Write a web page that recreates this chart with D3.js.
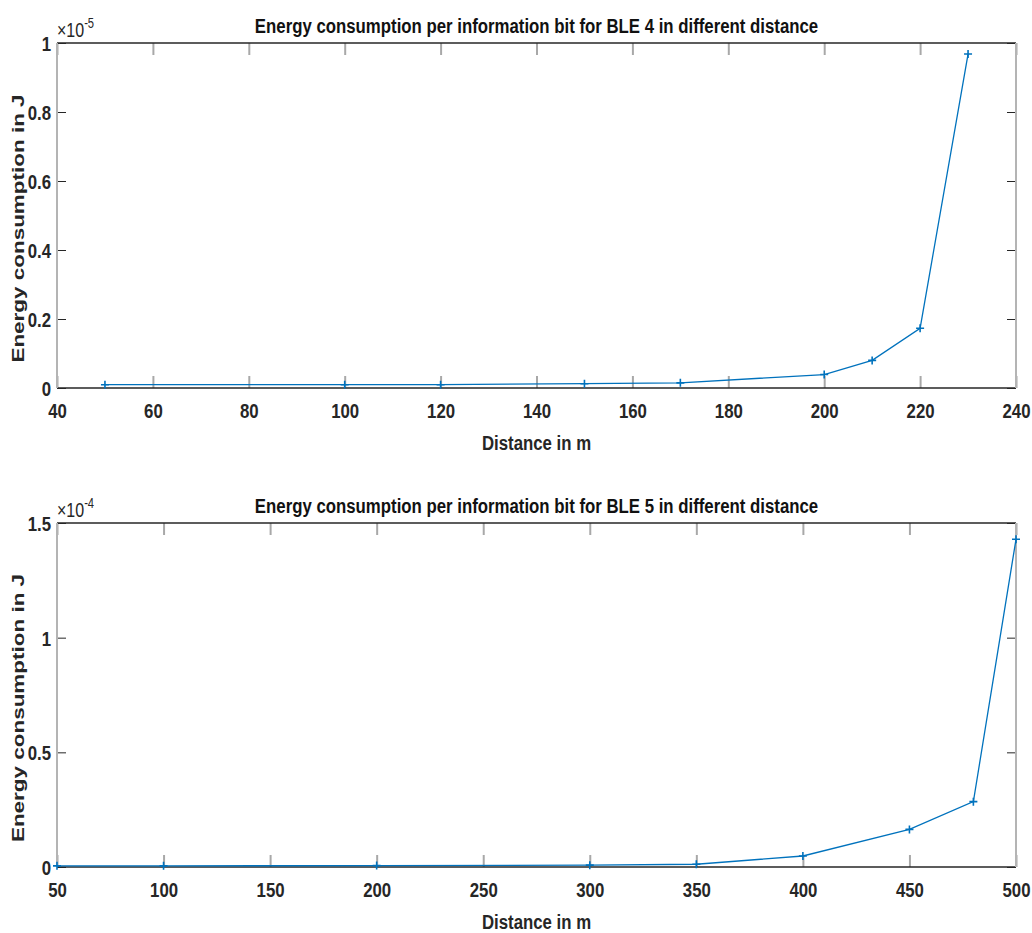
<!DOCTYPE html>
<html>
<head>
<meta charset="utf-8">
<script src="https://cdn.jsdelivr.net/npm/d3@7"></script>
<style>
  body { margin: 0; background: #fff; }
  text { font-family: "Liberation Sans", Arial, sans-serif; }
</style>
</head>
<body>
<div id="chart"></div>
<script>
// BLE 4 (energy in units of 1e-5 J)
const ble4Distance = [50, 100, 120, 150, 170, 200, 210, 220, 230];
const ble4Energy = [0.0095, 0.0095, 0.0096, 0.0125, 0.015, 0.039, 0.080, 0.173, 0.968];
const ble4XTicks = [40, 60, 80, 100, 120, 140, 160, 180, 200, 220, 240];
const ble4YTicks = [0, 0.2, 0.4, 0.6, 0.8, 1];

// BLE 5 (energy in units of 1e-4 J)
const ble5Distance = [50, 100, 200, 300, 350, 400, 450, 480, 500];
const ble5Energy = [0.005, 0.005, 0.006, 0.008, 0.012, 0.048, 0.164, 0.285, 1.429];
const ble5XTicks = [50, 100, 150, 200, 250, 300, 350, 400, 450, 500];
const ble5YTicks = [0, 0.5, 1, 1.5];

const width = 1032;
const height = 933;
const left = 57, right = 1016;
const squeeze = 0.8;   // texto estrecho como en la figura
const blue = "#0072BD";
const dark = "#262626";

const svg = d3.select("div#chart").append("svg").attr("width", width).attr("height", height);

function drawPanel(p) {
    const x = d3.scaleLinear().domain(d3.extent(p.xTicks)).range([left, right]);
    const y = d3.scaleLinear().domain(d3.extent(p.yTicks)).range([p.bottom, p.top]);
    const g = svg.append("g");

    // ejes x (abajo y arriba), ticks hacia dentro
    const xb = g.append("g").attr("transform", `translate(0,${p.bottom})`)
        .call(d3.axisBottom(x).tickValues(p.xTicks).tickSizeInner(-12).tickSizeOuter(0).tickPadding(0));
    const xt = g.append("g").attr("transform", `translate(0,${p.top})`)
        .call(d3.axisTop(x).tickValues(p.xTicks).tickSizeInner(-12).tickSizeOuter(0).tickFormat(""));
    [xb, xt].forEach(a => {
        a.select(".domain").remove();
        a.selectAll(".tick line").attr("stroke", "#a8a8a8").attr("stroke-width", 2);
    });
    xb.selectAll(".tick text")
        .attr("y", 30).attr("dy", null)
        .attr("font-size", 21).attr("font-weight", "bold").attr("fill", dark)
        .attr("font-family", "Liberation Sans, Arial, sans-serif")
        .attr("transform", `scale(${squeeze},1)`);

    // ejes y (izquierda y derecha)
    const yl = g.append("g").attr("transform", `translate(${left},0)`)
        .call(d3.axisLeft(y).tickValues(p.yTicks).tickSizeInner(-9).tickSizeOuter(0).tickPadding(0).tickFormat(d3.format("~g")));
    const yr = g.append("g").attr("transform", `translate(${right},0)`)
        .call(d3.axisRight(y).tickValues(p.yTicks).tickSizeInner(-9).tickSizeOuter(0).tickFormat(""));
    [yl, yr].forEach(a => {
        a.select(".domain").remove();
        a.selectAll(".tick line").attr("stroke", dark).attr("stroke-width", 1);
    });
    yl.selectAll(".tick text")
        .attr("x", -6 / squeeze).attr("dy", "0.36em")
        .attr("font-size", 21).attr("font-weight", "bold").attr("fill", dark)
        .attr("font-family", "Liberation Sans, Arial, sans-serif")
        .attr("transform", `scale(${squeeze},1)`);

    // caja
    g.append("line").attr("x1", left).attr("x2", right).attr("y1", p.top).attr("y2", p.top)
        .attr("stroke", dark).attr("stroke-width", 1.5);
    g.append("line").attr("x1", left).attr("x2", right).attr("y1", p.bottom).attr("y2", p.bottom)
        .attr("stroke", dark).attr("stroke-width", 1.5);
    g.append("line").attr("x1", left).attr("x2", left).attr("y1", p.top).attr("y2", p.bottom)
        .attr("stroke", "#b4b4b4").attr("stroke-width", 2);
    g.append("line").attr("x1", right).attr("x2", right).attr("y1", p.top).attr("y2", p.bottom)
        .attr("stroke", "#b4b4b4").attr("stroke-width", 2);

    // linea de datos
    const data = p.xs.map((d, i) => ({ dist: d, e: p.ys[i] }));
    const line = d3.line().x(d => x(d.dist)).y(d => y(d.e));
    g.append("path").datum(data)
        .attr("d", line).attr("fill", "none").attr("stroke", blue).attr("stroke-width", 1.3);
    g.selectAll(".marker").data(data).enter().append("path")
        .attr("class", "marker")
        .attr("transform", d => `translate(${x(d.dist)},${y(d.e)})`)
        .attr("d", "M-4,0H4M0,-4V4")
        .attr("stroke", blue).attr("stroke-width", 1.6);

    // textos
    const mid = (left + right) / 2;
    g.append("text").attr("transform", `translate(${mid},${p.top - 10}) scale(${squeeze},1)`)
        .attr("text-anchor", "middle").attr("font-size", 21).attr("font-weight", "bold").attr("fill", "#111")
        .text(p.title);
    g.append("text").attr("transform", `translate(${mid},${p.bottom + 62}) scale(${squeeze},1)`)
        .attr("text-anchor", "middle").attr("font-size", 21).attr("font-weight", "bold").attr("fill", dark)
        .text("Distance in m");
    g.append("text")
        .attr("transform", `translate(24,${(p.top + p.bottom) / 2 + 13}) rotate(-90) scale(1.07,0.82)`)
        .attr("text-anchor", "middle").attr("font-size", 21).attr("font-weight", "bold").attr("fill", dark)
        .text("Energy consumption in J");
    const ex = g.append("text").attr("transform", `translate(57,${p.top - 6}) scale(${squeeze},1)`)
        .attr("font-size", 20).attr("fill", dark);
    ex.append("tspan").text("\u00d710");
    ex.append("tspan").attr("font-size", 14).attr("dy", -9).text(p.exponent);
}

drawPanel({
    top: 43, bottom: 388,
    xs: ble4Distance, ys: ble4Energy, xTicks: ble4XTicks, yTicks: ble4YTicks,
    title: "Energy consumption per information bit for BLE 4 in different distance",
    exponent: "-5"
});
drawPanel({
    top: 523, bottom: 867,
    xs: ble5Distance, ys: ble5Energy, xTicks: ble5XTicks, yTicks: ble5YTicks,
    title: "Energy consumption per information bit for BLE 5 in different distance",
    exponent: "-4"
});
</script>
</body>
</html>
